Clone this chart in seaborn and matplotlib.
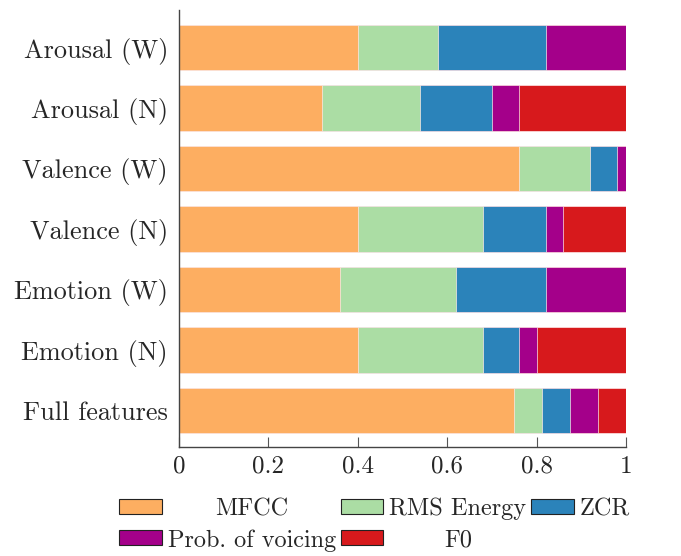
import numpy as np
import pandas as pd
import matplotlib
matplotlib.use("Agg")
import matplotlib.pyplot as plt
from matplotlib.patches import Patch
import seaborn as sns

# Relative contribution of each feature group, per task
tasks = ["Arousal (W)", "Arousal (N)", "Valence (W)", "Valence (N)",
         "Emotion (W)", "Emotion (N)", "Full features"]
mfcc = [0.40, 0.32, 0.76, 0.40, 0.36, 0.40, 0.75]
rms_energy = [0.18, 0.22, 0.16, 0.28, 0.26, 0.28, 0.0625]
zcr = [0.24, 0.16, 0.06, 0.14, 0.20, 0.08, 0.0625]
prob_voicing = [0.18, 0.06, 0.02, 0.04, 0.18, 0.04, 0.0625]
f0 = [0.00, 0.24, 0.00, 0.14, 0.00, 0.20, 0.0625]

features = ["MFCC", "RMS Energy", "ZCR", "Prob. of voicing", "F0"]
colors = ["#fdae61", "#abdda4", "#2b83ba", "#a4008a", "#d7191c"]

sns.set_style("white")
plt.rcParams["font.family"] = "serif"
plt.rcParams["font.serif"] = ["cmr10", "DejaVu Serif"]
plt.rcParams["mathtext.fontset"] = "cm"
plt.rcParams["axes.formatter.use_mathtext"] = True

df = pd.DataFrame({"task": tasks, "MFCC": mfcc, "RMS Energy": rms_energy,
                   "ZCR": zcr, "Prob. of voicing": prob_voicing, "F0": f0})
cum = df[features].cumsum(axis=1)

DPI = 100
fig = plt.figure(figsize=(6.81, 5.56), dpi=DPI)
ax = fig.add_axes([179 / 681, 1 - 447.3 / 556, 447 / 681, 437.3 / 556])

# Stacked bars: draw the running totals from the outermost segment inwards
for feat, col in reversed(list(zip(features, colors))):
    sns.barplot(x=cum[feat], y=df["task"], color=col, orient="h",
                width=0.75, edgecolor=(1, 0.92, 0.92, 0.8), linewidth=0.6,
                saturation=1, ax=ax)

ax.set_xlim(0, 1)
ax.set_ylim(6.61, -0.62)
ax.set_xticks([0, 0.2, 0.4, 0.6, 0.8, 1.0])
ax.set_xticklabels(["0", "0.2", "0.4", "0.6", "0.8", "1"])
ax.set_xlabel("")
ax.set_ylabel("")
ax.tick_params(axis="x", direction="in", length=7, width=0.8, color="#555555",
               labelsize=18, pad=6, bottom=True)
ax.tick_params(axis="y", length=0, labelsize=18.9, pad=8)
for s in ["top", "right"]:
    ax.spines[s].set_visible(False)
for s in ["left", "bottom"]:
    ax.spines[s].set_color("#444444")
    ax.spines[s].set_linewidth(1.0)

handles = [Patch(facecolor=c, edgecolor="#222222", linewidth=0.8) for c in colors]
order = [0, 3, 1, 4, 2]
leg = fig.legend([handles[i] for i in order], [features[i] for i in order],
                 ncol=3, loc="upper left", bbox_to_anchor=(119 / 681, 1 - 498 / 556),
                 frameon=False, fontsize=17.5, handlelength=1.75, handleheight=0.58,
                 handletextpad=0.25, columnspacing=0.2, labelspacing=0.35,
                 borderpad=0.0, borderaxespad=0.0)

# Centre each legend label within its column
fig.canvas.draw()
renderer = fig.canvas.get_renderer()
texts = leg.get_texts()
columns = [[0, 1], [2, 3], [4]]
for col in columns:
    widths = [texts[i].get_window_extent(renderer).width for i in col]
    wmax = max(widths)
    for i, w in zip(col, widths):
        texts[i].set_position(((wmax - w) / 2, 0))

fig.savefig("out.png", dpi=DPI)
